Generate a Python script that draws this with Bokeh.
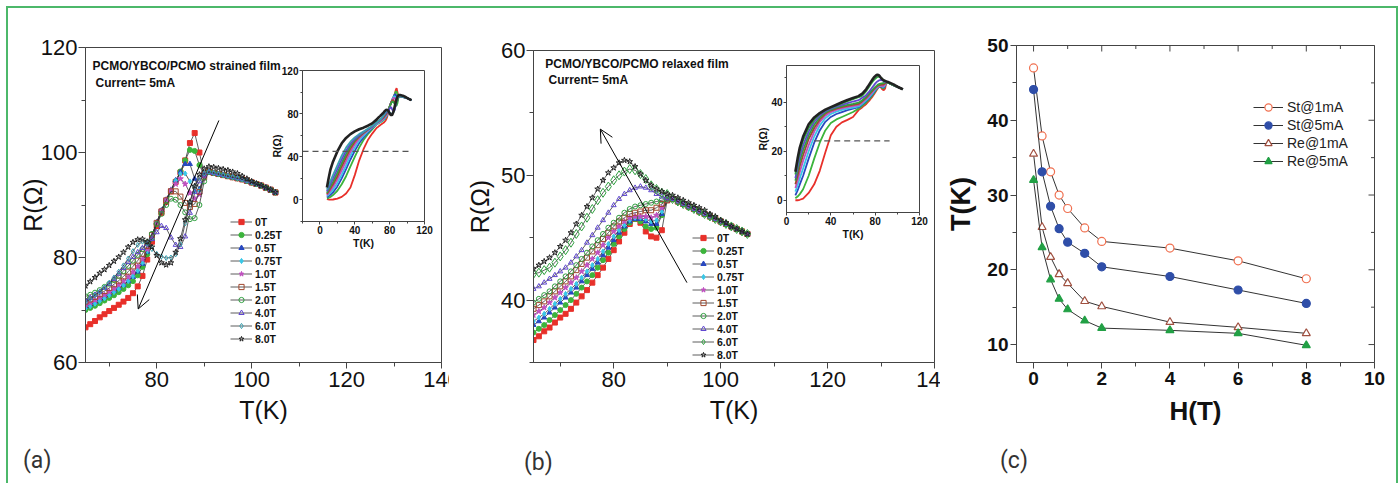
import math
from bokeh.plotting import figure
from bokeh.models import (Column, Legend, LegendItem, Label, Arrow, OpenHead,
                          FixedTicker, Range1d, Div)
from bokeh.embed import file_html
from bokeh.resources import INLINE

FONT = "Liberation Sans"
LFONT = "Roboto"

# ---------------- data ----------------
fields = ["0T", "0.25T", "0.5T", "0.75T", "1.0T", "1.5T", "2.0T", "4.0T", "6.0T", "8.0T"]
T_head = [65, 66, 67, 68, 69, 70, 71, 72, 73, 74, 75, 76, 77, 78, 79, 80, 81, 82, 83, 84, 85, 86, 87, 88, 89, 90]
T_tail = [91, 92, 93, 94, 95, 96, 97, 98, 99, 100, 101, 102, 103, 104, 105]
T_low = [8, 10, 12, 15, 20, 25, 30, 35, 40, 45, 50, 55, 60]

# panel (a) strained film, R(ohm) at T_head
a_0T = [66.7, 67.3, 67.9, 68.6, 69.2, 69.8, 70.4, 71.0, 71.6, 72.3, 73.2, 74.5, 76.5, 79.6, 83.0, 86.0, 88.5, 90.6, 92.6, 94.4, 96.2, 98.5, 101.8, 103.7, 100.0, 95.8]
a_025T = [70.0, 70.4, 70.8, 71.3, 71.8, 72.3, 72.8, 73.4, 74.0, 74.7, 75.5, 76.6, 78.2, 80.6, 83.6, 86.4, 88.8, 90.8, 92.7, 94.5, 96.4, 98.5, 100.5, 100.3, 97.6, 95.6]
a_05T = [70.6, 71.0, 71.5, 72.0, 72.5, 73.0, 73.6, 74.2, 74.8, 75.5, 76.3, 77.3, 78.8, 81.1, 84.0, 86.7, 89.0, 91.0, 92.9, 94.7, 96.3, 97.8, 97.8, 95.0, 93.0, 95.5]
a_075T = [70.3, 70.7, 71.2, 71.7, 72.2, 72.8, 73.4, 74.0, 74.7, 75.5, 76.4, 77.5, 79.0, 81.2, 83.9, 86.6, 89.0, 91.0, 92.9, 94.6, 95.9, 96.0, 94.5, 92.5, 92.8, 95.4]
a_10T = [71.0, 71.4, 71.9, 72.4, 72.9, 73.5, 74.1, 74.8, 75.5, 76.3, 77.2, 78.3, 79.7, 81.6, 84.0, 86.6, 88.9, 91.0, 92.8, 94.0, 95.0, 94.0, 92.3, 91.2, 92.0, 95.2]
a_15T = [71.6, 72.0, 72.5, 73.0, 73.6, 74.2, 74.9, 75.6, 76.4, 77.3, 78.3, 79.4, 80.7, 82.2, 84.3, 86.6, 88.8, 90.9, 92.6, 92.6, 91.6, 90.4, 89.6, 90.2, 92.5, 95.3]
a_20T = [72.6, 72.9, 73.3, 73.8, 74.4, 75.0, 75.7, 76.5, 77.4, 78.4, 79.4, 80.5, 81.6, 82.9, 84.5, 86.4, 88.3, 90.0, 91.2, 91.0, 90.0, 88.6, 87.3, 87.5, 90.0, 94.5]
a_40T = [71.8, 72.3, 72.9, 73.5, 74.2, 75.0, 75.9, 76.9, 78.0, 79.1, 80.1, 81.0, 81.8, 82.6, 83.5, 84.8, 86.0, 85.6, 83.8, 82.4, 82.0, 84.0, 88.5, 92.5, 94.5, 95.8]
a_60T = [71.5, 72.1, 72.8, 73.5, 74.3, 75.2, 76.2, 77.3, 78.5, 79.8, 81.2, 82.4, 83.0, 82.6, 81.6, 80.7, 80.2, 79.9, 80.0, 80.6, 82.5, 86.5, 90.5, 93.5, 95.2, 96.0]
a_80T = [74.6, 75.4, 76.2, 77.0, 77.7, 78.5, 79.3, 80.1, 81.0, 82.0, 82.9, 83.4, 83.5, 83.0, 82.0, 80.4, 79.0, 78.6, 79.0, 81.0, 83.6, 87.2, 90.6, 93.6, 95.8, 96.9]
a_tail = [96.3, 96.1, 95.9, 95.7, 95.5, 95.3, 95.1, 94.9, 94.6, 94.3, 94.0, 93.7, 93.3, 92.9, 92.4]
a_tail_8T = [97.3, 97.2, 97.0, 96.8, 96.6, 96.3, 96.0, 95.5, 95.0, 94.5, 94.1, 93.7, 93.3, 92.9, 92.4]

# inset (a), low-temperature part at T_low
ia_0T = [0.8, 0.4, 0.3, 0.4, 1.2, 2.8, 6.0, 11.5, 23.0, 36.5, 47.0, 55.5, 61.5]
ia_025T = [1.5, 2.0, 2.8, 4.5, 8.5, 14.5, 22.0, 31.0, 40.0, 48.5, 55.5, 61.0, 65.5]
ia_05T = [2.5, 3.5, 4.8, 7.0, 12.5, 20.0, 28.5, 37.5, 45.5, 52.5, 58.0, 62.5, 66.5]
ia_075T = [3.5, 5.0, 6.5, 9.5, 15.5, 23.5, 32.0, 41.0, 48.5, 55.0, 59.5, 63.5, 67.0]
ia_10T = [4.5, 6.5, 8.5, 12.0, 19.0, 27.5, 36.0, 44.5, 51.5, 57.0, 61.0, 64.5, 67.5]
ia_15T = [5.5, 8.0, 10.5, 14.5, 22.0, 31.0, 39.5, 47.5, 54.0, 58.5, 62.0, 65.0, 68.0]
ia_20T = [6.5, 9.5, 12.5, 17.0, 25.0, 34.0, 42.5, 50.0, 55.5, 59.5, 62.5, 65.5, 68.5]
ia_40T = [8.0, 11.5, 15.0, 20.0, 28.5, 37.5, 45.5, 52.0, 56.5, 60.0, 63.0, 65.5, 68.0]
ia_60T = [9.5, 13.5, 17.5, 23.0, 32.0, 41.0, 48.5, 54.0, 58.0, 61.0, 63.5, 66.0, 68.5]
ia_80T = [11.5, 20.0, 28.0, 35.5, 45.0, 52.5, 57.5, 61.0, 63.5, 65.5, 67.0, 68.8, 71.0]
ia_dash_x = [-20, 105]
ia_dash_y = [45, 45]

# panel (b) relaxed film
b_0T = [36.8, 37.1, 37.5, 37.8, 38.2, 38.6, 38.9, 39.3, 39.8, 40.3, 40.8, 41.4, 42.0, 42.6, 43.3, 44.0, 44.7, 45.4, 46.1, 46.5, 46.2, 45.5, 45.1, 45.0, 45.6, 48.0]
b_025T = [37.4, 37.7, 38.0, 38.4, 38.8, 39.2, 39.6, 40.0, 40.5, 41.0, 41.5, 42.0, 42.6, 43.2, 43.8, 44.5, 45.1, 45.7, 46.2, 46.5, 46.3, 45.9, 45.7, 45.8, 46.8, 48.0]
b_05T = [38.0, 38.3, 38.6, 39.0, 39.4, 39.8, 40.2, 40.6, 41.0, 41.5, 42.0, 42.5, 43.0, 43.6, 44.2, 44.8, 45.4, 45.9, 46.3, 46.5, 46.5, 46.3, 46.1, 46.1, 46.9, 48.0]
b_075T = [38.3, 38.6, 38.9, 39.3, 39.7, 40.1, 40.5, 40.9, 41.3, 41.8, 42.3, 42.8, 43.3, 43.9, 44.5, 45.1, 45.6, 46.0, 46.4, 46.6, 46.6, 46.5, 46.3, 46.4, 47.1, 48.0]
b_10T = [38.8, 39.1, 39.4, 39.8, 40.2, 40.6, 41.0, 41.4, 41.8, 42.3, 42.8, 43.3, 43.8, 44.4, 45.0, 45.5, 45.9, 46.3, 46.6, 46.7, 46.7, 46.7, 46.6, 46.8, 47.4, 48.0]
b_15T = [39.3, 39.6, 39.9, 40.3, 40.7, 41.1, 41.5, 41.9, 42.4, 42.9, 43.4, 43.9, 44.4, 44.9, 45.4, 45.9, 46.3, 46.6, 46.9, 47.0, 47.1, 47.2, 47.2, 47.4, 47.7, 48.0]
b_20T = [39.8, 40.1, 40.4, 40.7, 41.1, 41.5, 41.9, 42.3, 42.8, 43.3, 43.8, 44.3, 44.8, 45.3, 45.8, 46.2, 46.6, 47.0, 47.3, 47.5, 47.6, 47.7, 47.8, 47.9, 48.0, 48.1]
b_40T = [40.9, 41.1, 41.4, 41.7, 42.0, 42.3, 42.6, 43.0, 43.5, 44.0, 44.6, 45.2, 45.8, 46.4, 47.0, 47.6, 48.1, 48.5, 48.8, 49.0, 49.1, 49.0, 48.8, 48.5, 48.3, 48.2]
b_60T = [42.1, 42.2, 42.4, 42.6, 43.0, 43.5, 44.0, 44.6, 45.3, 45.9, 46.6, 47.3, 48.0, 48.6, 49.1, 49.6, 50.0, 50.3, 50.5, 50.4, 50.1, 49.7, 49.2, 48.9, 48.6, 48.5]
b_80T = [42.5, 42.8, 43.1, 43.4, 43.8, 44.3, 44.8, 45.4, 46.1, 46.8, 47.5, 48.2, 48.9, 49.6, 50.2, 50.6, 51.0, 51.2, 51.1, 50.7, 50.1, 49.6, 49.2, 48.9, 48.7, 48.5]
b_tail = [48.1, 47.9, 47.7, 47.5, 47.3, 47.1, 46.9, 46.7, 46.5, 46.3, 46.1, 45.9, 45.7, 45.5, 45.3]
b_tail_8T = [48.4, 48.2, 48.0, 47.8, 47.6, 47.4, 47.2, 46.9, 46.7, 46.4, 46.2, 45.9, 45.7, 45.5, 45.3]

ib_0T = [0.0, 0.0, 0.2, 0.7, 3.0, 6.5, 12.0, 19.5, 26.5, 30.0, 31.8, 32.8, 34.0]
ib_025T = [0.8, 1.5, 2.5, 4.5, 10.0, 17.0, 23.5, 28.5, 31.5, 33.0, 34.0, 35.0, 36.0]
ib_05T = [2.0, 4.0, 6.5, 10.0, 17.0, 23.5, 28.5, 32.0, 34.0, 35.2, 36.0, 36.8, 37.4]
ib_075T = [3.5, 6.0, 9.0, 13.0, 20.0, 26.0, 30.5, 33.5, 35.2, 36.2, 36.9, 37.4, 37.8]
ib_10T = [5.0, 8.0, 11.5, 16.0, 22.5, 28.0, 32.0, 34.5, 36.0, 36.9, 37.5, 38.0, 38.4]
ib_15T = [6.5, 10.0, 14.0, 18.5, 25.0, 29.5, 33.0, 35.3, 36.6, 37.4, 38.0, 38.5, 38.9]
ib_20T = [8.0, 12.0, 16.0, 20.5, 26.5, 30.8, 33.8, 35.8, 37.0, 37.8, 38.4, 38.9, 39.3]
ib_40T = [9.0, 13.5, 18.0, 22.5, 28.0, 32.0, 34.6, 36.3, 37.4, 38.2, 38.9, 39.6, 40.3]
ib_60T = [10.5, 15.5, 20.0, 24.5, 29.5, 33.0, 35.3, 36.8, 37.8, 38.6, 39.5, 40.4, 41.3]
ib_80T = [11.6, 17.0, 21.5, 26.0, 31.0, 33.8, 35.6, 37.0, 38.0, 39.0, 40.0, 40.9, 41.7]
ib_dash_x = [25, 93]
ib_dash_y = [24.2, 24.2]

# arrows (x_start, y_start, x_end, y_end in data units)
arrow_a = [93.1, 106.1, 76.1, 70.2]
arrow_b = [93.7, 41.4, 77.5, 53.7]

# panel (c)
c_H = [0, 0.25, 0.5, 0.75, 1, 1.5, 2, 4, 6, 8]
c_St1 = [47.0, 37.9, 33.1, 30.0, 28.2, 25.6, 23.8, 22.9, 21.2, 18.8]
c_St5 = [44.1, 33.1, 28.5, 25.5, 23.7, 22.2, 20.4, 19.1, 17.3, 15.5]
c_Re1 = [35.5, 25.7, 21.7, 19.4, 18.2, 15.8, 15.1, 13.0, 12.3, 11.5]
c_Re5 = [32.0, 23.0, 18.7, 16.1, 14.7, 13.2, 12.2, 11.9, 11.5, 9.9]
c_names = ["St@1mA", "St@5mA", "Re@1mA", "Re@5mA"]
c_xticks = [0, 2, 4, 6, 8, 10]
c_xminor = [1, 3, 5, 7, 9]
c_yticks = [10, 20, 30, 40, 50]
c_yminor = [15, 25, 35, 45]
c_xlim = (-0.5, 10)
c_ylim = (7.6, 50)

panel_tags = ["(a)", "(b)", "(c)"]

a_series = [a_0T, a_025T, a_05T, a_075T, a_10T, a_15T, a_20T, a_40T, a_60T, a_80T]
b_series = [b_0T, b_025T, b_05T, b_075T, b_10T, b_15T, b_20T, b_40T, b_60T, b_80T]
ia_series = [ia_0T, ia_025T, ia_05T, ia_075T, ia_10T, ia_15T, ia_20T, ia_40T, ia_60T, ia_80T]
ib_series = [ib_0T, ib_025T, ib_05T, ib_075T, ib_10T, ib_15T, ib_20T, ib_40T, ib_60T, ib_80T]

# ---------------- styles ----------------
markers = ["square", "circle", "triangle", "diamond", "star", "square", "circle", "triangle", "diamond", "star"]
filled = [True, True, True, True, True, False, False, False, False, False]
colors_a = ["#e8302a", "#3cb43c", "#2848c0", "#38c8e8", "#c050c0", "#a0482e", "#30a040", "#6048d0", "#3aa0b0", "#222222"]
colors_b = ["#e8302a", "#3cb43c", "#2848c0", "#38c8e8", "#c050c0", "#a0482e", "#30a040", "#6048d0", "#30a040", "#222222"]
AX = "#444444"
L, R = 92, 20   # common left/right borders (the column aligns them)


def base_fig(frame_w, frame_h, xr, yr, mbt, mbb):
    p = figure(width=L + frame_w + R, height=mbt + frame_h + mbb,
               x_range=Range1d(*xr), y_range=Range1d(*yr),
               output_backend="svg", toolbar_location=None,
               min_border_left=L, min_border_right=R, min_border_top=mbt, min_border_bottom=mbb)
    p.xgrid.visible = False
    p.ygrid.visible = False
    p.outline_line_color = AX
    p.outline_line_width = 1
    p.border_fill_alpha = 0
    p.background_fill_color = "white"
    return p


def set_axis(ax, ticks, minor, fsize, lsize, style, standoff, lstandoff, tout=6, mout=4):
    ax.ticker = FixedTicker(ticks=ticks, minor_ticks=minor)
    ax.major_label_text_font = FONT
    ax.major_label_text_font_size = fsize
    ax.major_label_text_font_style = style
    ax.major_label_text_color = "#111111"
    ax.axis_label_text_font = FONT
    ax.axis_label_text_font_size = lsize
    ax.axis_label_text_font_style = style
    ax.axis_label_text_color = "#111111"
    ax.major_label_standoff = standoff
    ax.axis_label_standoff = lstandoff
    ax.major_tick_out = tout
    ax.major_tick_in = 0
    ax.minor_tick_out = mout
    ax.minor_tick_in = 0
    ax.axis_line_color = AX
    ax.major_tick_line_color = AX
    ax.minor_tick_line_color = AX


def main_panel(frame_w, frame_h, mbt, yr, yticks, yminor, series, tail, tail8, colors,
               sizes, title1, title2, tpos1, tpos2, arrow, leg_loc, ystand):
    p = base_fig(frame_w, frame_h, (65, 140), yr, mbt, 118)
    p.xaxis.axis_label = "T(K)"
    p.yaxis.axis_label = "R(\u03a9)"
    set_axis(p.xaxis[0], [80, 100, 120, 140], [70, 90, 110, 130], "22px", "25px", "normal", 3, 6)
    set_axis(p.yaxis[0], yticks, yminor, "22px", "25px", "normal", 1, ystand, tout=7)
    items = []
    for i, name in enumerate(fields):
        xs = T_head + T_tail
        ys = series[i] + (tail8 if i == 9 else tail)
        rl = p.line(xs, ys, line_color="#333333", line_width=0.8)
        rs = p.scatter(xs, ys, marker=markers[i], size=sizes[i], line_color=colors[i],
                       fill_color=colors[i], fill_alpha=1.0 if filled[i] else 0.0, line_width=1)
        items.append(LegendItem(label=name, renderers=[rl, rs]))
    leg = Legend(items=items, location=leg_loc, background_fill_alpha=0, border_line_alpha=0,
                 padding=0, margin=0, spacing=0, glyph_width=22, glyph_height=13,
                 label_height=13, label_standoff=3, label_text_font=FONT,
                 label_text_font_size="10.5px", label_text_font_style="bold",
                 label_text_color="#111111")
    p.add_layout(leg)
    p.add_layout(Arrow(end=OpenHead(size=13, line_color="black", line_width=1),
                       x_start=arrow[0], y_start=arrow[1], x_end=arrow[2], y_end=arrow[3],
                       line_color="black", line_width=1))
    for txt, pos in [(title1, tpos1), (title2, tpos2)]:
        p.add_layout(Label(x=pos[0], y=pos[1], text=txt, text_font=FONT,
                           text_font_size="12px", text_font_style="bold", text_baseline="top",
                           text_color="#111111"))
    return p


fa = main_panel(356, 315, 37, (60, 120), [60, 80, 100, 120], [70, 90, 110],
                a_series, a_tail, a_tail_8T, colors_a, [5, 5, 5, 5, 6, 5, 5, 5, 5, 6],
                "PCMO/YBCO/PCMO strained film", "Current= 5mA", (66.5, 117.9), (67.1, 114.6),
                arrow_a, (145, 17), -9)
fb = main_panel(401, 312, 40, (35, 60), [40, 50, 60], [35, 45, 55],
                b_series, b_tail, b_tail_8T, colors_b, [5, 5, 5, 5, 6, 5, 5, 5, 9, 6],
                "PCMO/YBCO/PCMO relaxed film", "Current= 5mA", (67.2, 59.5), (67.8, 58.2),
                arrow_b, (159, 1), 4)

ia = base_fig(122, 151, (-20, 120), (-20, 120), 10, 35)
ib = base_fig(133, 147, (0, 120), (-5, 55), 10, 33)
for p, lows, heads, tail, tail8, cols, dx, dy, xt, xm, yt, ym, ys in [
        (ia, ia_series, a_series, a_tail, a_tail_8T, colors_a, ia_dash_x, ia_dash_y,
         [0, 40, 80, 120], [-20, 20, 60, 100], [0, 40, 80, 120], [-20, 20, 60, 100], -4),
        (ib, ib_series, b_series, b_tail, b_tail_8T, colors_b, ib_dash_x, ib_dash_y,
         [0, 40, 80, 120], [20, 60, 100], [0, 20, 40], [10, 30, 50], -1)]:
    p.xaxis.axis_label = "T(K)"
    p.yaxis.axis_label = "R(\u03a9)"
    set_axis(p.xaxis[0], xt, xm, "10px", "10.5px", "bold", 1, 0, tout=3, mout=2)
    set_axis(p.yaxis[0], yt, ym, "10px", "10.5px", "bold", 1, ys, tout=3, mout=2)
    for i in range(10):
        xs = T_low + T_head + T_tail
        yv = lows[i] + heads[i] + (tail8 if i == 9 else tail)
        p.line(xs, yv, line_color=cols[i], line_width=2.6 if i == 9 else 1.8)
    p.line(dx, dy, line_color="#555555", line_width=1.2, line_dash="6 4")

# panel (c)
fc = base_fig(358, 317, c_xlim, c_ylim, 35, 118)
fc.xaxis.axis_label = "H(T)"
fc.yaxis.axis_label = "T(K)"
set_axis(fc.xaxis[0], c_xticks, c_xminor, "19px", "26px", "bold", 3, 8)
set_axis(fc.yaxis[0], c_yticks, c_yminor, "19px", "27px", "bold", 2, 8)
# mirrored inward ticks on the top and right edges (half of each dash is clipped by the frame)
fc.scatter(c_xticks, [c_ylim[1]] * len(c_xticks), marker="dash", angle=math.pi / 2, size=12,
           line_color=AX, line_width=1)
fc.scatter(c_xminor, [c_ylim[1]] * len(c_xminor), marker="dash", angle=math.pi / 2, size=7,
           line_color=AX, line_width=1)
fc.scatter([c_xlim[1]] * len(c_yticks), c_yticks, marker="dash", size=12, line_color=AX, line_width=1)
fc.scatter([c_xlim[1]] * len(c_yminor), c_yminor, marker="dash", size=7, line_color=AX, line_width=1)

c_series = [c_St1, c_St5, c_Re1, c_Re5]
c_markers = ["circle", "circle", "triangle", "triangle"]
c_colors = ["#f07050", "#2f4ea8", "#a05040", "#22a045"]
c_filled = [False, True, False, True]
c_items = []
for i, name in enumerate(c_names):
    rl = fc.line(c_H, c_series[i], line_color="#333333", line_width=1)
    rs = fc.scatter(c_H, c_series[i], marker=c_markers[i], size=8, line_color=c_colors[i],
                    fill_color=c_colors[i] if c_filled[i] else "white", line_width=1.2)
    c_items.append(LegendItem(label=name, renderers=[rl, rs]))
fc.add_layout(Legend(items=c_items, location=(237, 192), background_fill_alpha=0,
                     border_line_alpha=0, padding=0, margin=0, spacing=0, glyph_width=30,
                     glyph_height=18, label_height=18, label_standoff=4, label_text_font=FONT,
                     label_text_font_size="14px", label_text_color="#222222"))


def place(fig, frame_left, frame_top, mbt, clip_right=0, z=1):
    st = {"position": "absolute", "left": f"{frame_left - L - 8}px",
          "top": f"{frame_top - mbt - 8}px", "z-index": str(z)}
    if clip_right:
        st["clip-path"] = f"inset(0px {clip_right}px 0px 0px)"
    fig.styles = st


place(fa, 85, 47, 37, clip_right=R - 8)
place(fb, 533, 50, 40, clip_right=R - 6)
place(fc, 1016, 45, 35)
place(ia, 302, 70, 10, z=3)
place(ib, 786, 65, 10, z=3)

tags = []
for tag, (lx, ly) in zip(panel_tags, [(18, 444), (519, 446), (995, 444)]):
    d = Div(text=f'<span style="font-family:{LFONT};font-size:23px;color:#333333;'
                 f'line-height:1">{tag}</span>', width=40, height=30,
            styles={"position": "absolute", "left": f"{lx - 8}px", "top": f"{ly - 8}px",
                    "z-index": "4"})
    tags.append(d)

root = Column(children=[fa, fb, fc, ia, ib] + tags, width=1392, height=477,
              styles={"position": "relative", "box-sizing": "border-box",
                      "margin-left": "6px", "margin-top": "6px",
                      "border-top": "2px solid #4cb86a", "border-left": "2px solid #4cb86a",
                      "border-right": "2px solid #4cb86a", "background-color": "white"})

open("out.html", "w").write(file_html(root, INLINE))
